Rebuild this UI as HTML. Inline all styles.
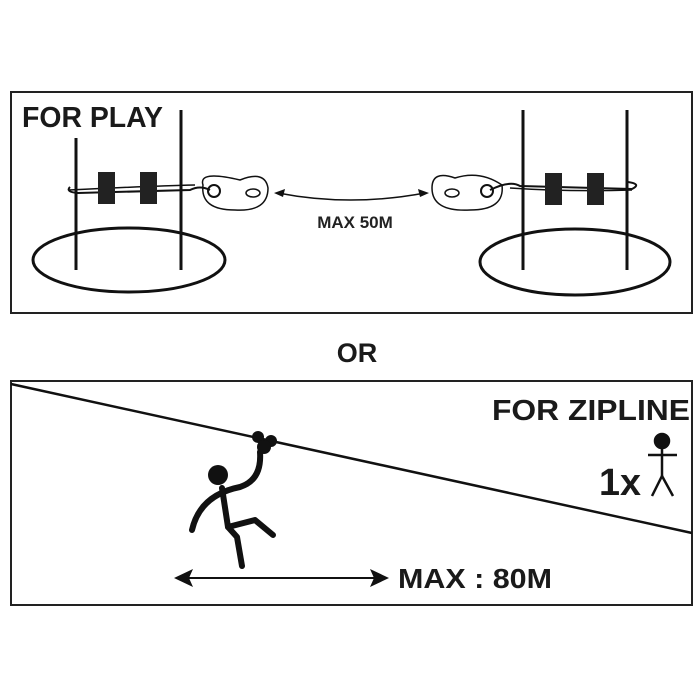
<!DOCTYPE html>
<html><head><style>body{margin:0;background:#fff}svg{display:block}</style></head><body>
<svg width="700" height="700" viewBox="0 0 700 700" xmlns="http://www.w3.org/2000/svg" font-family="Liberation Sans, sans-serif" font-weight="bold">
<rect width="700" height="700" fill="#fff"/>
<rect x="11" y="92" width="681" height="221" fill="none" stroke="#222" stroke-width="2"/>
<rect x="11" y="381" width="681" height="224" fill="none" stroke="#222" stroke-width="2"/>
<text x="22" y="127" font-size="29" fill="#1a1a1a" textLength="141" lengthAdjust="spacingAndGlyphs">FOR PLAY</text>
<g stroke="#111" fill="none">
<ellipse cx="129" cy="260" rx="96" ry="32" stroke-width="3"/>
<line x1="76" y1="138" x2="76" y2="270" stroke-width="3"/>
<line x1="181" y1="110" x2="181" y2="270" stroke-width="3"/>
<path d="M70 187 Q65 192 78 193 L190 190 Q200 185 210 190" stroke-width="2"/>
<path d="M69 190 Q150 186 195 185" stroke-width="1.5"/>
<path d="M203 185 Q198 170 240 180 Q265 170 268 188 Q268 212 235 210 Q200 210 203 185Z" stroke-width="1.5"/>
<circle cx="214" cy="191" r="6" stroke-width="2"/>
<ellipse cx="253" cy="193" rx="7" ry="4" stroke-width="1.5"/>
<ellipse cx="575" cy="262" rx="95" ry="33" stroke-width="3"/>
<line x1="523" y1="110" x2="523" y2="270" stroke-width="3"/>
<line x1="627" y1="110" x2="627" y2="270" stroke-width="3"/>
<path d="M490 190 Q510 180 520 186 L632 189 Q642 184 628 182" stroke-width="2"/>
<path d="M510 188 Q570 192 632 190" stroke-width="1.5"/>
<path d="M432 188 Q432 170 455 178 Q480 170 502 185 Q505 210 470 210 Q432 212 432 188Z" stroke-width="1.5"/>
<circle cx="487" cy="191" r="6" stroke-width="2"/>
<ellipse cx="452" cy="193" rx="7" ry="4" stroke-width="1.5"/>
<path d="M278 193 Q350 207 425 193" stroke-width="1.5"/>
</g>
<path d="M274 193 L285 189 L283 197Z M429 193 L418 189 L420 197Z" fill="#111"/>
<rect x="98" y="172" width="17" height="32" fill="#222"/>
<rect x="140" y="172" width="17" height="32" fill="#222"/>
<rect x="545" y="173" width="17" height="32" fill="#222"/>
<rect x="587" y="173" width="17" height="32" fill="#222"/>
<text x="355" y="228" font-size="17" text-anchor="middle" fill="#222">MAX 50M</text>
<text x="357" y="362" font-size="27" text-anchor="middle" fill="#1a1a1a">OR</text>
<line x1="11" y1="384" x2="692" y2="533" stroke="#111" stroke-width="2.5"/>
<text x="492" y="420" font-size="29" fill="#1a1a1a" textLength="198" lengthAdjust="spacingAndGlyphs">FOR ZIPLINE</text>
<text x="599" y="495" font-size="38" fill="#1a1a1a" textLength="42" lengthAdjust="spacingAndGlyphs">1x</text>
<g stroke="#111" stroke-width="2.5" fill="none">
<circle cx="662" cy="441" r="7" fill="#111"/>
<line x1="648" y1="455" x2="677" y2="455"/>
<line x1="662" y1="448" x2="662" y2="476"/>
<path d="M652 496 L662 476 L673 496"/>
</g>
<g stroke="#111" stroke-width="6" fill="none" stroke-linecap="round" stroke-linejoin="round">
<path d="M260 452 Q262 480 240 487 Q200 495 192 530"/>
<path d="M222 488 L228 527 L237 537 L242 566"/>
<path d="M228 527 L255 520 L273 535"/>
</g>
<circle cx="218" cy="475" r="10" fill="#111"/>
<g fill="#111"><circle cx="258" cy="437" r="6"/><circle cx="271" cy="441" r="6"/><circle cx="264" cy="447" r="7"/></g>
<line x1="185" y1="578" x2="378" y2="578" stroke="#111" stroke-width="2"/>
<path d="M174 578 L193 569 L189 578 L193 587Z M389 578 L370 569 L374 578 L370 587Z" fill="#111"/>
<text x="398" y="588" font-size="28" fill="#1a1a1a" textLength="154" lengthAdjust="spacingAndGlyphs">MAX : 80M</text>
</svg>
</body></html>
